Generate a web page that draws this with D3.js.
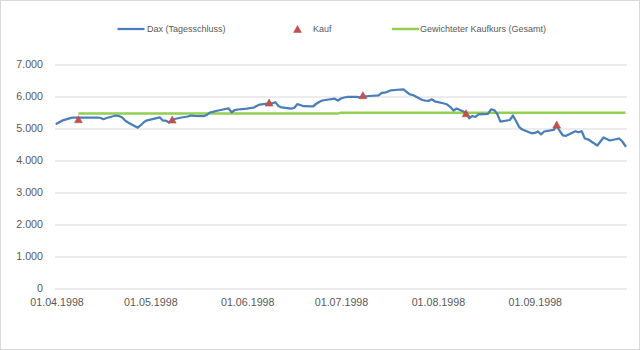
<!DOCTYPE html>
<html>
<head>
<meta charset="utf-8">
<script src="https://cdn.jsdelivr.net/npm/d3@7"></script>
<style>
  body { margin: 0; background: #fff; }
  svg text { font-family: "Liberation Sans", Arial, sans-serif; fill: #595959; }
</style>
</head>
<body>
<svg id="chart" width="640" height="350"></svg>
<script>
// DAX daily closes, April – September 1998
const daxDates = [
  "1998-04-01","1998-04-02","1998-04-03","1998-04-06","1998-04-07","1998-04-08","1998-04-09",
  "1998-04-14","1998-04-15","1998-04-16","1998-04-17","1998-04-20","1998-04-21","1998-04-22",
  "1998-04-23","1998-04-24","1998-04-27","1998-04-28","1998-04-29","1998-04-30",
  "1998-05-04","1998-05-05","1998-05-06","1998-05-07","1998-05-08","1998-05-11","1998-05-12",
  "1998-05-13","1998-05-14","1998-05-15","1998-05-18","1998-05-19","1998-05-20","1998-05-21",
  "1998-05-22","1998-05-25","1998-05-26","1998-05-27","1998-05-28","1998-05-29",
  "1998-06-01","1998-06-02","1998-06-03","1998-06-04","1998-06-05","1998-06-08","1998-06-09",
  "1998-06-10","1998-06-11","1998-06-12","1998-06-15","1998-06-16","1998-06-17","1998-06-18",
  "1998-06-19","1998-06-22","1998-06-23","1998-06-24","1998-06-25","1998-06-26","1998-06-29",
  "1998-06-30",
  "1998-07-01","1998-07-02","1998-07-03","1998-07-06","1998-07-07","1998-07-08","1998-07-09",
  "1998-07-10","1998-07-13","1998-07-14","1998-07-15","1998-07-16","1998-07-17","1998-07-20",
  "1998-07-21","1998-07-22","1998-07-23","1998-07-24","1998-07-27","1998-07-28","1998-07-29",
  "1998-07-30","1998-07-31",
  "1998-08-03","1998-08-04","1998-08-05","1998-08-06","1998-08-07","1998-08-10","1998-08-11",
  "1998-08-12","1998-08-13","1998-08-14","1998-08-17","1998-08-18","1998-08-19","1998-08-20",
  "1998-08-21","1998-08-24","1998-08-25","1998-08-26","1998-08-27","1998-08-28","1998-08-31",
  "1998-09-01","1998-09-02","1998-09-03","1998-09-04","1998-09-07","1998-09-08","1998-09-09",
  "1998-09-10","1998-09-11","1998-09-14","1998-09-15","1998-09-16","1998-09-17","1998-09-18",
  "1998-09-21","1998-09-22","1998-09-23","1998-09-24","1998-09-25","1998-09-28","1998-09-29",
  "1998-09-30"
];
const daxClose = [
  5131,5188,5240,5322,5328,5322,5322,
  5328,5319,5275,5312,5390,5375,5328,
  5228,5166,5010,5094,5188,5241,
  5334,5234,5228,5172,5266,5328,5344,
  5359,5390,5381,5369,5406,5484,5506,
  5531,5594,5616,5491,5562,5578,
  5603,5625,5634,5688,5734,5772,5772,
  5806,5688,5641,5603,5625,5744,5719,
  5681,5672,5750,5812,5859,5875,5916,
  5859,
  5922,5953,5969,5969,5959,5984,5991,
  6000,6022,6094,6103,6141,6178,6203,
  6209,6125,6053,6031,5875,5853,5844,
  5897,5834,
  5766,5734,5656,5547,5609,5478,5303,
  5375,5344,5428,5438,5584,5562,5438,
  5197,5250,5390,5220,5031,4953,4834,
  4844,4891,4803,4891,4938,5063,4906,
  4766,4756,4900,4866,4900,4672,4647,
  4453,4578,4703,4656,4609,4672,4578,
  4438
];

// Purchases (Kauf)
const buyDates = ["1998-04-08","1998-05-08","1998-06-08","1998-07-08","1998-08-10","1998-09-08"];
const buyPrices = [5272, 5260, 5791, 6022, 5459, 5103];

// Weighted average purchase price (Gesamt)
const avgDates = ["1998-04-08","1998-06-30","1998-07-01","1998-09-30"];
const avgPrices = [5450, 5450, 5480, 5480];

const yTicks = [0, 1000, 2000, 3000, 4000, 5000, 6000, 7000];
const xTickDates = ["1998-04-01","1998-05-01","1998-06-01","1998-07-01","1998-08-01","1998-09-01"];
const legendLabels = ["Dax (Tagesschluss)", "Kauf", "Gewichteter Kaufkurs (Gesamt)"];

const colors = { dax: "#4A7EBB", buy: "#C0504D", avg: "#92D050", grid: "#D9D9D9" };

const parse = d3.timeParse("%Y-%m-%d");
const de = d3.formatLocale({ decimal: ",", thousands: ".", grouping: [3], currency: ["", " €"] });

const svg = d3.select("#chart");

// chart frame
svg.append("rect")
  .attr("x", 0.5).attr("y", 0.5).attr("width", 639).attr("height", 349)
  .attr("fill", "#fff").attr("stroke", colors.grid);

const plot = { left: 55, right: 627, top: 64, bottom: 288 };

const x = d3.scaleTime()
  .domain([d3.timeHour.offset(parse(daxDates[0]), -12),
           d3.timeHour.offset(parse(daxDates[daxDates.length - 1]), 12)])
  .range([plot.left, plot.right]);
const y = d3.scaleLinear().domain([0, 7000]).range([plot.bottom, plot.top]);

// horizontal gridlines
svg.append("g")
  .attr("transform", `translate(${plot.left},0.5)`)
  .call(d3.axisLeft(y).tickValues(yTicks).tickSize(-(plot.right - plot.left)).tickFormat(""))
  .call(g => g.select(".domain").remove())
  .call(g => g.selectAll("line").attr("stroke", colors.grid));

// y axis labels
svg.append("g")
  .attr("transform", `translate(${plot.left},0)`)
  .call(d3.axisLeft(y).tickValues(yTicks).tickSize(0).tickPadding(12).tickFormat(de.format(",")))
  .call(g => g.select(".domain").remove())
  .call(g => g.selectAll("text").style("font-size", "10.7px").attr("fill", "#595959"));

// x axis labels
svg.append("g")
  .attr("transform", `translate(0,${plot.bottom})`)
  .call(d3.axisBottom(x).tickValues(xTickDates.map(parse)).tickSize(0).tickPadding(10)
        .tickFormat(d3.timeFormat("%d.%m.%Y")))
  .call(g => g.select(".domain").remove())
  .call(g => g.selectAll("text").style("font-size", "10.7px").attr("fill", "#595959"));

// weighted average purchase price
const avgData = avgDates.map((d, i) => ({ date: parse(d), value: avgPrices[i] }));
svg.append("path")
  .datum(avgData)
  .attr("fill", "none")
  .attr("stroke", colors.avg)
  .attr("stroke-width", 2.5)
  .attr("d", d3.line().x(d => x(d.date)).y(d => y(d.value)));

// DAX close line
const daxData = daxDates.map((d, i) => ({ date: parse(d), value: daxClose[i] }));
svg.append("path")
  .datum(daxData)
  .attr("fill", "none")
  .attr("stroke", colors.dax)
  .attr("stroke-width", 2.25)
  .attr("stroke-linejoin", "round")
  .attr("stroke-linecap", "round")
  .attr("d", d3.line().x(d => x(d.date)).y(d => y(d.value)));

// purchase markers
const tri = "M0,-3.6L3.9,3.4L-3.9,3.4Z";
const buyData = buyDates.map((d, i) => ({ date: parse(d), value: buyPrices[i] }));
svg.append("g").selectAll("path")
  .data(buyData)
  .join("path")
  .attr("d", tri)
  .attr("fill", colors.buy)
  .attr("stroke", colors.buy)
  .attr("stroke-width", 0.6)
  .attr("transform", d => `translate(${x(d.date)},${y(d.value)})`);

// legend
const legend = svg.append("g").attr("transform", "translate(0,29)");
const items = [
  { x: 117.5, kind: "line", color: colors.dax, w: 2.25, textX: 147 },
  { x: 297.5, kind: "marker", color: colors.buy, textX: 313 },
  { x: 392, kind: "line", color: colors.avg, w: 2.5, textX: 420 }
];
items.forEach((it, i) => {
  if (it.kind === "line") {
    legend.append("line")
      .attr("x1", it.x).attr("x2", it.x + 27).attr("y1", 0).attr("y2", 0)
      .attr("stroke", it.color).attr("stroke-width", it.w);
  } else {
    legend.append("path").attr("d", tri)
      .attr("fill", it.color).attr("stroke", it.color).attr("stroke-width", 0.6)
      .attr("transform", `translate(${it.x},0)`);
  }
  legend.append("text")
    .attr("x", it.textX).attr("y", 0).attr("dy", "0.35em")
    .style("font-size", "9px")
    .text(legendLabels[i]);
});
</script>
</body>
</html>
